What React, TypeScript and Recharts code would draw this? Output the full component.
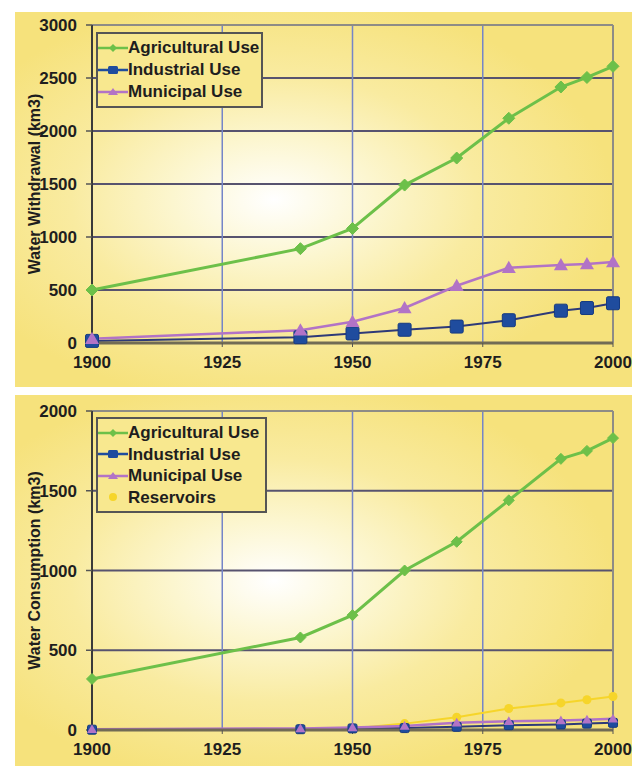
import React from 'react';
import {
  LineChart, Line, XAxis, YAxis, CartesianGrid, Legend, ReferenceLine,
} from 'recharts';

// ---------- data ----------
const years = [1900, 1940, 1950, 1960, 1970, 1980, 1990, 1995, 2000];
const xTicks = [1900, 1925, 1950, 1975, 2000];

const withdrawalAgricultural = [500, 890, 1080, 1490, 1745, 2120, 2415, 2505, 2610];
const withdrawalIndustrial = [20, 55, 90, 125, 155, 215, 305, 330, 375];
const withdrawalMunicipal = [40, 120, 200, 330, 540, 710, 735, 745, 765];
const withdrawalTicks = [0, 500, 1000, 1500, 2000, 2500, 3000];

const consumptionAgricultural = [320, 580, 720, 1000, 1180, 1440, 1700, 1750, 1830];
const consumptionIndustrial = [2, 5, 10, 12, 20, 30, 35, 40, 45];
const consumptionMunicipal = [5, 10, 15, 25, 45, 55, 60, 65, 70];
const consumptionReservoirs = [0, 5, 10, 40, 80, 135, 170, 190, 210];
const consumptionTicks = [0, 500, 1000, 1500, 2000];

const withdrawalData = years.map((y, i) => ({
  year: y,
  agri: withdrawalAgricultural[i],
  ind: withdrawalIndustrial[i],
  mun: withdrawalMunicipal[i],
}));
const consumptionData = years.map((y, i) => ({
  year: y,
  agri: consumptionAgricultural[i],
  ind: consumptionIndustrial[i],
  mun: consumptionMunicipal[i],
  res: consumptionReservoirs[i],
}));

// ---------- styles ----------
const FONT = "'Liberation Sans Narrow', 'Arial Narrow', 'Liberation Sans', sans-serif";
const GREEN = '#6DC049';
const BLUE = '#1F4C9E';
const BLUE_LINE = '#2E3A78';
const PURPLE = '#B273C6';
const YELLOW = '#F6D52A';

const tickStyle = { fontFamily: FONT, fontWeight: 700, fontSize: 17, fill: '#1E1E1E' };

const diamond = (color: string, r: number) => (props: any) => {
  const { cx, cy, index } = props;
  if (cx == null || cy == null) return <g key={`dm-${index}`} />;
  return (
    <path key={`dm-${index}`} d={`M${cx},${cy - r}L${cx + r},${cy}L${cx},${cy + r}L${cx - r},${cy}Z`} fill={color} stroke={color} strokeWidth={1} />
  );
};
const square = (color: string, r: number) => (props: any) => {
  const { cx, cy, index } = props;
  if (cx == null || cy == null) return <g key={`sq-${index}`} />;
  return <rect key={`sq-${index}`} x={cx - r} y={cy - r} width={2 * r} height={2 * r} rx={1.5} fill={color} stroke="#163A80" strokeWidth={1} />;
};
const triangle = (color: string, r: number) => (props: any) => {
  const { cx, cy, index } = props;
  if (cx == null || cy == null) return <g key={`tr-${index}`} />;
  return <path key={`tr-${index}`} d={`M${cx},${cy - r}L${cx + r},${cy + r * 0.75}L${cx - r},${cy + r * 0.75}Z`} fill={color} />;
};
const circle = (color: string, r: number) => (props: any) => {
  const { cx, cy, index } = props;
  if (cx == null || cy == null) return <g key={`ci-${index}`} />;
  return <circle key={`ci-${index}`} cx={cx} cy={cy} r={r} fill={color} />;
};

type LegendItem = { label: string; color: string; line: string; shape: 'diamond' | 'square' | 'triangle' | 'circle' };

const withdrawalLegend: LegendItem[] = [
  { label: 'Agricultural Use', color: GREEN, line: GREEN, shape: 'diamond' },
  { label: 'Industrial Use', color: BLUE, line: BLUE, shape: 'square' },
  { label: 'Municipal Use', color: PURPLE, line: PURPLE, shape: 'triangle' },
];
const consumptionLegend: LegendItem[] = [
  { label: 'Agricultural Use', color: GREEN, line: GREEN, shape: 'diamond' },
  { label: 'Industrial Use', color: BLUE, line: BLUE, shape: 'square' },
  { label: 'Municipal Use', color: PURPLE, line: PURPLE, shape: 'triangle' },
  { label: 'Reservoirs', color: YELLOW, line: 'none', shape: 'circle' },
];

const LegendIcon = ({ item }: { item: LegendItem }) => {
  const cx = 15, cy = 8;
  let mk: React.ReactNode = null;
  if (item.shape === 'diamond') mk = <path d={`M${cx},${cy - 4}L${cx + 4},${cy}L${cx},${cy + 4}L${cx - 4},${cy}Z`} fill={item.color} />;
  if (item.shape === 'square') mk = <rect x={cx - 5} y={cy - 4} width={10} height={8} rx={1.5} fill={item.color} />;
  if (item.shape === 'triangle') mk = <path d={`M${cx},${cy - 4}L${cx + 5},${cy + 3}L${cx - 5},${cy + 3}Z`} fill={item.color} />;
  if (item.shape === 'circle') mk = <circle cx={cx} cy={cy} r={4} fill={item.color} />;
  return (
    <svg width={30} height={16} style={{ flex: 'none' }}>
      {item.line !== 'none' && <line x1={0} y1={cy} x2={30} y2={cy} stroke={item.line} strokeWidth={2.5} />}
      {mk}
    </svg>
  );
};

const makeLegend = (items: LegendItem[], rowH: number) => () => (
  <div
    style={{
      border: '2px solid #555',
      background: '#F8E88F',
      padding: '3px 6px 3px 0',
      boxSizing: 'border-box',
      fontFamily: FONT,
      fontWeight: 700,
      fontSize: 17,
      color: '#1E1E1E',
      lineHeight: `${rowH}px`,
    }}
  >
    {items.map((it) => (
      <div key={it.label} style={{ display: 'flex', alignItems: 'center', height: rowH, whiteSpace: 'nowrap' }}>
        <LegendIcon item={it} />
        <span>{it.label}</span>
      </div>
    ))}
  </div>
);

const axisTitle = (text: string) => (props: any) => {
  const vb = props.viewBox || {};
  const x = (vb.x ?? 0) + 4;
  const y = (vb.y ?? 0) + (vb.height ?? 0) / 2;
  return (
    <text
      x={x}
      y={y}
      transform={`rotate(-90, ${x}, ${y})`}
      textAnchor="middle"
      dominantBaseline="central"
      style={{ fontFamily: FONT, fontWeight: 700, fontSize: 16, fill: '#1E1E1E' }}
    >
      {text}
    </text>
  );
};

const panelBg =
  'radial-gradient(ellipse 55% 55% at 42% 50%, #FFFFFF 0%, #FCF6CF 30%, #F9EBA0 60%, #F6E27C 100%)';

export default function App() {
  return (
    <div style={{ position: 'absolute', left: 0, top: 0, width: 639, height: 766, background: '#FFFFFF', overflow: 'hidden' }}>
      {/* Top panel: withdrawal */}
      <div style={{ position: 'absolute', left: 15, top: 12, width: 617, height: 375, background: panelBg }}>
        <LineChart width={617} height={375} data={withdrawalData} margin={{ top: 13, right: 19, bottom: 14, left: 15 }}>
          <CartesianGrid horizontal={true} vertical={false} stroke="#57536F" strokeWidth={2} />
          <CartesianGrid horizontal={false} vertical={true} stroke="#7585C8" strokeWidth={1.5} />
          <ReferenceLine y={3000} stroke="#8E8C86" strokeWidth={2} />
          <ReferenceLine x={2000} stroke="#8E8C86" strokeWidth={2} />
          <XAxis
            dataKey="year"
            type="number"
            domain={[1900, 2000]}
            ticks={xTicks}
            interval={0}
            height={30}
            tickSize={4}
            tickMargin={9}
            tick={tickStyle}
            axisLine={{ stroke: '#716B55', strokeWidth: 3 }}
            tickLine={{ stroke: '#555' }}
          />
          <YAxis
            type="number"
            domain={[0, 3000]}
            ticks={withdrawalTicks}
            interval={0}
            width={62}
            tickSize={6}
            tickMargin={9}
            tick={tickStyle}
            axisLine={{ stroke: '#3A3A3A', strokeWidth: 2 }}
            tickLine={{ stroke: '#555', strokeWidth: 1.5 }}
            label={{ content: axisTitle('Water Withdrawal (km3)') }}
          />
          <Line dataKey="agri" stroke={GREEN} strokeWidth={3} dot={diamond(GREEN, 6)} isAnimationActive={false} />
          <Line dataKey="ind" stroke={BLUE_LINE} strokeWidth={2} dot={square(BLUE, 6.5)} isAnimationActive={false} />
          <Line dataKey="mun" stroke={PURPLE} strokeWidth={2.5} dot={triangle(PURPLE, 7)} isAnimationActive={false} />
          <Legend
            layout="vertical"
            align="center"
            verticalAlign="middle"
            content={makeLegend(withdrawalLegend, 22)}
            wrapperStyle={{ position: 'absolute', left: 81, top: 20, width: 167, height: 73 }}
          />
        </LineChart>
      </div>

      {/* Bottom panel: consumption */}
      <div style={{ position: 'absolute', left: 15, top: 395, width: 617, height: 371, background: panelBg }}>
        <LineChart width={617} height={371} data={consumptionData} margin={{ top: 16, right: 19, bottom: 6, left: 15 }}>
          <CartesianGrid horizontal={true} vertical={false} stroke="#57536F" strokeWidth={2} />
          <CartesianGrid horizontal={false} vertical={true} stroke="#7585C8" strokeWidth={1.5} />
          <ReferenceLine y={2000} stroke="#8E8C86" strokeWidth={2} />
          <ReferenceLine x={2000} stroke="#8E8C86" strokeWidth={2} />
          <XAxis
            dataKey="year"
            type="number"
            domain={[1900, 2000]}
            ticks={xTicks}
            interval={0}
            height={30}
            tickSize={4}
            tickMargin={9}
            tick={tickStyle}
            axisLine={{ stroke: '#716B55', strokeWidth: 3 }}
            tickLine={{ stroke: '#555' }}
          />
          <YAxis
            type="number"
            domain={[0, 2000]}
            ticks={consumptionTicks}
            interval={0}
            width={62}
            tickSize={6}
            tickMargin={9}
            tick={tickStyle}
            axisLine={{ stroke: '#3A3A3A', strokeWidth: 2 }}
            tickLine={{ stroke: '#555', strokeWidth: 1.5 }}
            label={{ content: axisTitle('Water Consumption (km3)') }}
          />
          <Line dataKey="res" stroke={YELLOW} strokeWidth={2} dot={circle(YELLOW, 4.5)} isAnimationActive={false} />
          <Line dataKey="ind" stroke={BLUE_LINE} strokeWidth={2} dot={square(BLUE, 4.5)} isAnimationActive={false} />
          <Line dataKey="mun" stroke={PURPLE} strokeWidth={2.5} dot={triangle(PURPLE, 5)} isAnimationActive={false} />
          <Line dataKey="agri" stroke={GREEN} strokeWidth={3} dot={diamond(GREEN, 5.5)} isAnimationActive={false} />
          <Legend
            layout="vertical"
            align="center"
            verticalAlign="middle"
            content={makeLegend(consumptionLegend, 21.5)}
            wrapperStyle={{ position: 'absolute', left: 81, top: 22, width: 171, height: 94 }}
          />
        </LineChart>
      </div>
    </div>
  );
}
